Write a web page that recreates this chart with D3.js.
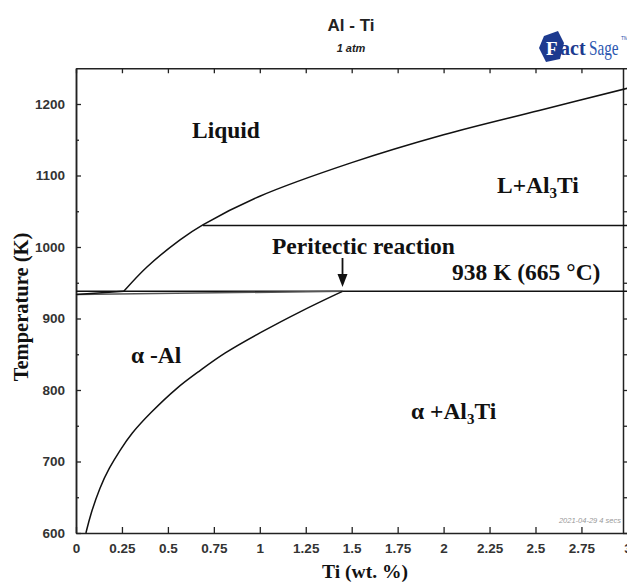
<!DOCTYPE html>
<html><head><meta charset="utf-8">
<script src="https://cdn.jsdelivr.net/npm/d3@7/dist/d3.min.js"></script>
<style>body{margin:0;background:#fff}svg{display:block}</style>
</head><body>
<script>
// ---- data ----
const xTickValues = [0,0.25,0.5,0.75,1,1.25,1.5,1.75,2,2.25,2.5,2.75,3];
const xTickLabels = ["0","0.25","0.5","0.75","1","1.25","1.5","1.75","2","2.25","2.5","2.75","3"];
const yTickValues = [600,700,800,900,1000,1100,1200];
const yMinorValues = [650,750,850,950,1050,1150];

// Al3Ti liquidus
const liqAl3TiX = [0.26, 0.386, 0.566, 0.69, 1.0, 1.5, 2.0, 2.52, 3.0];
const liqAl3TiT = [938, 972, 1010, 1031, 1071, 1118, 1157, 1191, 1222];
// alpha-Al solvus
const solvusX = [0.054, 0.08, 0.13, 0.18, 0.24, 0.3, 0.4, 0.55, 0.675, 0.8, 1.0, 1.22, 1.45];
const solvusT = [600, 627, 664, 691, 716, 739, 767, 804, 827, 851, 880, 910, 938];
// alpha-Al liquidus & solidus (near 933-938 K)
const liqAlX = [0, 0.26];  const liqAlT = [933.5, 938];
const solAlX = [0, 1.45];  const solAlT = [933.5, 938];
// invariant / horizontal lines
const peritecticX = [0, 3]; const peritecticT = [938, 938];
const upperX = [0.69, 3];   const upperT = [1030, 1030];

const W = 627, H = 584;
const svg = d3.select("body").append("svg").attr("width", W).attr("height", H);

const x = d3.scaleLinear().domain([0,3]).range([76, 627.4]);
const y = d3.scaleLinear().domain([600,1250]).range([533, 68.25]);

const ink = "#222";

// title
svg.append("text").attr("x", 351).attr("y", 31).attr("text-anchor","middle")
  .attr("font-family","Liberation Sans, Arial, sans-serif").attr("font-weight","bold")
  .attr("font-size",17).attr("fill","#222").text("Al - Ti");
svg.append("text").attr("x", 351).attr("y", 52).attr("text-anchor","middle")
  .attr("font-family","Liberation Sans, Arial, sans-serif").attr("font-weight","bold").attr("font-style","italic")
  .attr("font-size",11).attr("fill","#222").text("1 atm");

// logo
const logo = svg.append("g").attr("transform","translate(539,31)");
logo.append("path").attr("d","M5,5 L19,0 L25,12 L21,28 L7,31 L0,17 Z").attr("fill","#1d3a8f");
logo.append("text").attr("x",7).attr("y",24).attr("font-family","Liberation Serif, serif").attr("font-weight","bold")
  .attr("font-size",19).attr("fill","#fff").text("F");
logo.append("text").attr("x",21).attr("y",24).attr("font-family","Liberation Serif, serif").attr("font-weight","bold")
  .attr("font-size",20).attr("fill","#1d3a8f").text("act");
logo.append("text").attr("transform","translate(50,24) scale(0.8,1.1)").attr("font-family","Liberation Serif, serif")
  .attr("font-size",19).attr("fill","#2c56b0").text("Sage");
logo.append("text").attr("x",82).attr("y",9).attr("font-family","Liberation Sans, sans-serif")
  .attr("font-size",5).attr("fill","#2c56b0").text("TM");

// frame axes
const tickFont = "Liberation Sans, Arial, sans-serif";
const gx = svg.append("g").attr("transform",`translate(0,${y(600)})`)
  .call(d3.axisBottom(x).tickValues(xTickValues).tickFormat((d,i)=>xTickLabels[i]).tickSizeInner(-6).tickSizeOuter(0).tickPadding(10));
const gxt = svg.append("g").attr("transform",`translate(0,${y(1250)})`)
  .call(d3.axisTop(x).tickValues(xTickValues).tickFormat("").tickSizeInner(-5).tickSizeOuter(0));
const gy = svg.append("g").attr("transform",`translate(${x(0)},0)`)
  .call(d3.axisLeft(y).tickValues(yTickValues).tickFormat(d3.format("d")).tickSizeInner(-5).tickSizeOuter(0).tickPadding(11));
const gym = svg.append("g").attr("transform",`translate(${x(0)},0)`)
  .call(d3.axisLeft(y).tickValues(yMinorValues).tickFormat("").tickSizeInner(-3).tickSizeOuter(0));
const gyr = svg.append("g").attr("transform",`translate(623,0)`)
  .call(d3.axisRight(y).tickValues(yTickValues.concat(yMinorValues)).tickFormat("").tickSizeInner(5).tickSizeOuter(0));
[gx,gxt,gy,gym,gyr].forEach(g=>{
  g.select(".domain").attr("stroke",ink).attr("stroke-width",1.5);
  g.selectAll(".tick line").attr("stroke",ink).attr("stroke-width",1.3);
  g.selectAll(".tick text").attr("font-family",tickFont).attr("font-weight","bold").attr("font-size",13.5).attr("fill","#333");
});

// axis labels
svg.append("text").attr("transform",`translate(28,${307}) rotate(-90)`).attr("text-anchor","middle")
  .attr("font-family","Liberation Serif, 'Times New Roman', serif").attr("font-weight","bold").attr("font-size",20.5)
  .attr("fill","#111").text("Temperature (K)");
svg.append("text").attr("x",365).attr("y",578).attr("text-anchor","middle")
  .attr("font-family","Liberation Serif, 'Times New Roman', serif").attr("font-weight","bold").attr("font-size",19.5)
  .attr("fill","#111").text("Ti (wt. %)");

// curves
const line = d3.line().x(d=>x(d[0])).y(d=>y(d[1]));
const smooth = d3.line().x(d=>x(d[0])).y(d=>y(d[1])).curve(d3.curveCatmullRom.alpha(0.5));
const basis = d3.line().x(d=>x(d[0])).y(d=>y(d[1])).curve(d3.curveBasis);
const zip = (a,b)=>a.map((v,i)=>[v,b[i]]);
const plot = svg.append("g").attr("fill","none").attr("stroke","#111").attr("stroke-width",1.5);
plot.append("path").attr("d", line(zip(peritecticX, peritecticT)));
plot.append("path").attr("d", line(zip(upperX, upperT)));
plot.append("path").attr("d", line(zip(solAlX, solAlT))).attr("stroke","#555");
plot.append("path").attr("d", line(zip(liqAlX, liqAlT)));
plot.append("path").attr("d", smooth(zip(liqAl3TiX, liqAl3TiT)));
plot.append("path").attr("d", basis(zip(solvusX, solvusT)));

// labels
const lab = (tx,ty,parts)=>{
  const t = svg.append("text").attr("x",tx).attr("y",ty)
    .attr("font-family","Liberation Serif, 'Times New Roman', serif").attr("font-weight","bold")
    .attr("font-size",23.5).attr("fill","#111");
  parts.forEach(p=>{
    const s = t.append("tspan").text(p.t);
    if(p.sub) s.attr("font-size",15).attr("dy",5);
    if(p.up) s.attr("dy",-5);
  });
  return t;
};
lab(192,138,[{t:"Liquid"}]);
lab(497,193,[{t:"L+Al"},{t:"3",sub:true},{t:"Ti",up:true}]);
lab(272,254,[{t:"Peritectic reaction"}]);
lab(452,280,[{t:"938 K (665 °C)"}]);
lab(131,363,[{t:"α -Al"}]);
lab(411,419,[{t:"α +Al"},{t:"3",sub:true},{t:"Ti",up:true}]);

// arrow
const ax = x(1.45);
svg.append("line").attr("x1",ax).attr("x2",ax).attr("y1",258).attr("y2",276).attr("stroke","#111").attr("stroke-width",1.8);
svg.append("path").attr("d",`M${ax-5},${274} L${ax+5},${274} L${ax},${287} Z`).attr("fill","#111");

// stamp
svg.append("text").attr("x",621).attr("y",523).attr("text-anchor","end")
  .attr("font-family","Liberation Sans, Arial, sans-serif").attr("font-style","italic")
  .attr("font-size",7.5).attr("fill","#999").text("2021-04-29  4 secs");
</script>
</body></html>
